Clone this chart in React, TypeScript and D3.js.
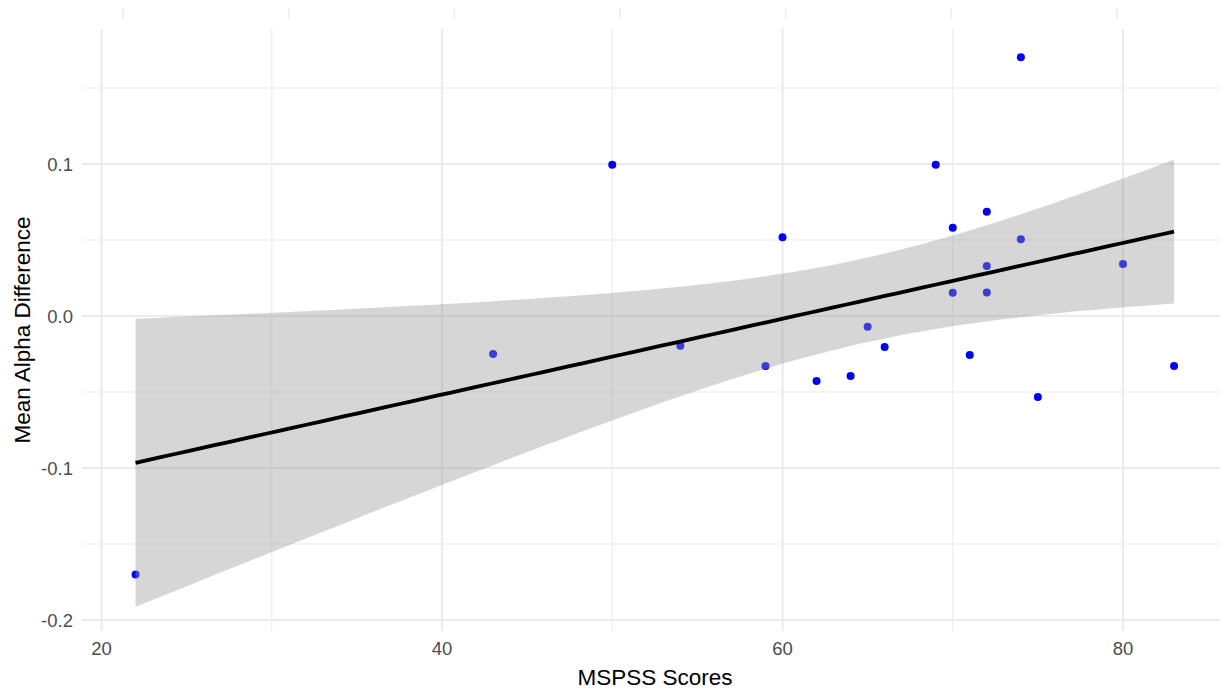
import React from "react";
import * as d3 from "d3";

const mspss = [22, 43, 50, 54, 59, 60, 62, 64, 65, 66, 69, 70, 70, 71, 72, 72, 72, 74, 74, 75, 80, 83];
const alphaDiff = [-0.170, -0.025, 0.0995, -0.0195, -0.0329, 0.0518, -0.0428, -0.0395, -0.007, -0.0204, 0.0995, 0.0581, 0.0153, -0.0257, 0.0686, 0.0329, 0.0155, 0.1702, 0.0505, -0.0533, 0.0342, -0.0329];
const xTicks = [20, 40, 60, 80];
const xMinor = [30, 50, 70];
const yTicks = [-0.2, -0.1, 0.0, 0.1];
const yMinor = [-0.15, -0.05, 0.05, 0.15];
const ghostTicks = [20, 30, 40, 50, 60, 70, 80];
const tQuant = 2.085963; // t(0.975, df=20)

const W = 1220;
const H = 691;
const FONT = "'Liberation Sans', Arial, Helvetica, sans-serif";

export default function App() {
  const x = d3.scaleLinear().domain([20, 80]).range([101.5, 1123]);
  const y = d3.scaleLinear().domain([-0.2, 0.1]).range([620, 164]);
  const ghost = d3.scaleLinear().domain([20, 80]).range([123, 1117]);

  const panelTop = 29;
  const panelBottom = 631;
  const panelLeft = 82;
  const panelRight = 1226;

  // Linear fit with 95% CI (as geom_smooth(method = "lm"))
  const n = mspss.length;
  const mx = d3.mean(mspss) as number;
  const my = d3.mean(alphaDiff) as number;
  let sxx = 0, sxy = 0;
  for (let i = 0; i < n; i++) {
    sxx += (mspss[i] - mx) ** 2;
    sxy += (mspss[i] - mx) * (alphaDiff[i] - my);
  }
  const slope = sxy / sxx;
  const icpt = my - slope * mx;
  let sse = 0;
  for (let i = 0; i < n; i++) sse += (alphaDiff[i] - (icpt + slope * mspss[i])) ** 2;
  const s = Math.sqrt(sse / (n - 2));
  const xmin = d3.min(mspss) as number;
  const xmax = d3.max(mspss) as number;
  const grid = d3.range(80).map((i) => xmin + ((xmax - xmin) * i) / 79);
  const fit = grid.map((gx) => {
    const f = icpt + slope * gx;
    const se = s * Math.sqrt(1 / n + (gx - mx) ** 2 / sxx);
    return { gx, f, lo: f - tQuant * se, hi: f + tQuant * se };
  });

  const area = d3
    .area<any>()
    .x((d) => x(d.gx))
    .y0((d) => y(d.lo))
    .y1((d) => y(d.hi));
  const line = d3
    .line<any>()
    .x((d) => x(d.gx))
    .y((d) => y(d.f));

  return (
    <svg
      width={W}
      height={H}
      style={{ position: "absolute", left: 0, top: 0, background: "#fff" }}
      fontFamily={FONT}
    >
      <rect x={0} y={0} width={W} height={H} fill="#fff" />
      {ghostTicks.map((t) => (
        <line key={"g" + t} x1={ghost(t)} x2={ghost(t)} y1={8} y2={19} stroke="#EBEBEB" strokeWidth={1.5} />
      ))}
      {yMinor.map((t) => (
        <line key={"ym" + t} x1={panelLeft} x2={panelRight} y1={y(t)} y2={y(t)} stroke="#EBEBEB" strokeWidth={1.1} />
      ))}
      {xMinor.map((t) => (
        <line key={"xm" + t} x1={x(t)} x2={x(t)} y1={panelTop} y2={panelBottom} stroke="#EBEBEB" strokeWidth={1.1} />
      ))}
      {yTicks.map((t) => (
        <line key={"yM" + t} x1={panelLeft} x2={panelRight} y1={y(t)} y2={y(t)} stroke="#EBEBEB" strokeWidth={2.1} />
      ))}
      {xTicks.map((t) => (
        <line key={"xM" + t} x1={x(t)} x2={x(t)} y1={panelTop} y2={panelBottom} stroke="#EBEBEB" strokeWidth={2.1} />
      ))}
      {mspss.map((v, i) => (
        <circle key={"p" + i} cx={x(v)} cy={y(alphaDiff[i])} r={4} fill="#0000FF" />
      ))}
      <path d={area(fit) as string} fill="#999999" fillOpacity={0.4} />
      <path d={line(fit) as string} fill="none" stroke="#000" strokeWidth={3.8} strokeLinejoin="round" />
      {yTicks.map((t) => (
        <text key={"yl" + t} x={73} y={y(t)} dy="0.36em" textAnchor="end" fontSize={18.5} fill="#4D4D4D">
          {t.toFixed(1)}
        </text>
      ))}
      {xTicks.map((t) => (
        <text key={"xl" + t} x={x(t)} y={655} textAnchor="middle" fontSize={18.5} fill="#4D4D4D">
          {t}
        </text>
      ))}
      <text x={655} y={685} textAnchor="middle" fontSize={22.5} fill="#000">
        MSPSS Scores
      </text>
      <text
        transform={`translate(30, ${(panelTop + panelBottom) / 2}) rotate(-90)`}
        textAnchor="middle"
        fontSize={22.5}
        fill="#000"
      >
        Mean Alpha Difference
      </text>
    </svg>
  );
}
